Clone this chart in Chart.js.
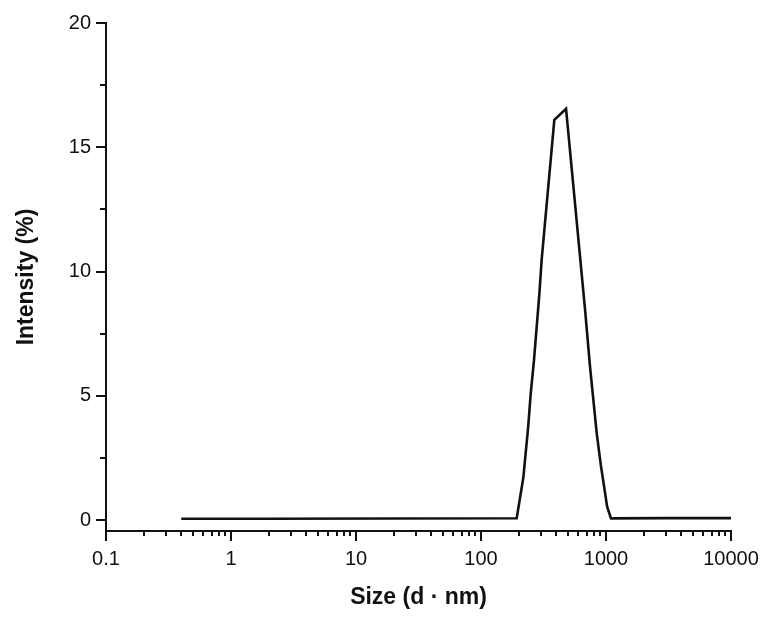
<!DOCTYPE html>
<html>
<head>
<meta charset="utf-8">
<script src="https://cdn.jsdelivr.net/npm/chart.js@4/dist/chart.umd.min.js"></script>
<style>
    html, body { margin: 0; padding: 0; background: #fff; }
    #wrap { width: 774px; height: 626px; position: relative; }
</style>
</head>
<body>
<div id="wrap"><canvas id="chart-dls"></canvas></div>
<script>
// size distribution by intensity
const sizes = [0.4, 2, 20, 193, 218, 238, 250, 265, 293, 306, 386, 479, 679, 745, 843, 910, 969, 1020, 1096, 3000, 10000];
const intensity = [0.05, 0.05, 0.06, 0.07, 1.7, 3.7, 5.1, 6.4, 9.1, 10.5, 16.1, 16.55, 8.5, 6.17, 3.49, 2.2, 1.3, 0.55, 0.07, 0.08, 0.08];

const yMajorTicks = [0, 5, 10, 15, 20];
const yMinorTicks = [2.5, 7.5, 12.5, 17.5];
const xMajorTicks = [0.1, 1, 10, 100, 1000, 10000];
const xMinorSteps = [2, 3, 4, 5, 6, 7, 8, 9];

const tickFont = { family: "'Liberation Sans', Arial, sans-serif", size: 20 };
const titleFont = { family: "'Liberation Sans', Arial, sans-serif", size: 23, weight: "bold" };

// outward tick marks, long for majors and short for minors
const tickMarks = {
    id: "tickMarks",
    afterDraw(chart) {
        const ctx = chart.ctx;
        const x = chart.scales.x;
        const y = chart.scales.y;
        ctx.save();
        ctx.strokeStyle = "#111";
        ctx.lineWidth = 2;
        ctx.beginPath();
        const yLine = (v, len) => {
            const p = Math.round(y.getPixelForValue(v));
            ctx.moveTo(y.right, p);
            ctx.lineTo(y.right - len, p);
        };
        yMajorTicks.forEach((v) => yLine(v, 10));
        yMinorTicks.forEach((v) => yLine(v, 6));
        const xLine = (v, len) => {
            const p = Math.round(x.getPixelForValue(v));
            ctx.moveTo(p, x.top);
            ctx.lineTo(p, x.top + len);
        };
        xMajorTicks.forEach((v) => xLine(v, 10));
        xMajorTicks.slice(0, -1).forEach((d) => {
            xMinorSteps.forEach((s) => xLine(d * s, 5));
        });
        ctx.stroke();
        ctx.restore();
    },
};

const chartDls = new Chart(document.getElementById("chart-dls"), {
    type: "line",
    data: {
        datasets: [
            {
                label: "Intensity",
                data: sizes.map((s, i) => ({ x: s, y: intensity[i] })),
                borderColor: "#111",
                borderWidth: 2.6,
                pointRadius: 0,
                tension: 0,
                fill: false,
            },
        ],
    },
    options: {
        responsive: true,
        maintainAspectRatio: false,
        animation: false,
        layout: {
            padding: { top: 23, right: 43, left: 0, bottom: 0 },
        },
        plugins: {
            legend: { display: false },
            tooltip: { enabled: false },
        },
        scales: {
            x: {
                type: "logarithmic",
                min: 0.1,
                max: 10000,
                afterBuildTicks: (scale) => {
                    scale.ticks = xMajorTicks.map((v) => ({ value: v }));
                },
                afterFit: (scale) => {
                    scale.height = 95;
                },
                grid: { display: false, drawTicks: true, tickLength: 10 },
                border: { display: true, color: "#111", width: 2 },
                ticks: {
                    autoSkip: false,
                    maxRotation: 0,
                    padding: 6,
                    color: "#111",
                    font: tickFont,
                    callback: (v) => String(v),
                },
                title: {
                    display: true,
                    text: "Size (d · nm)",
                    color: "#111",
                    font: titleFont,
                    padding: { top: 0, bottom: 15 },
                },
            },
            y: {
                type: "linear",
                min: -0.44,
                max: 20,
                afterBuildTicks: (scale) => {
                    scale.ticks = yMajorTicks.map((v) => ({ value: v }));
                },
                afterFit: (scale) => {
                    scale.width = 106;
                },
                grid: { display: false, drawTicks: true, tickLength: 10 },
                border: { display: true, color: "#111", width: 2 },
                ticks: {
                    padding: 5,
                    color: "#111",
                    font: tickFont,
                },
                title: {
                    display: true,
                    text: "Intensity (%)",
                    color: "#111",
                    font: titleFont,
                    padding: { top: 13, bottom: 0 },
                },
            },
        },
    },
    plugins: [tickMarks],
});
</script>
</body>
</html>
